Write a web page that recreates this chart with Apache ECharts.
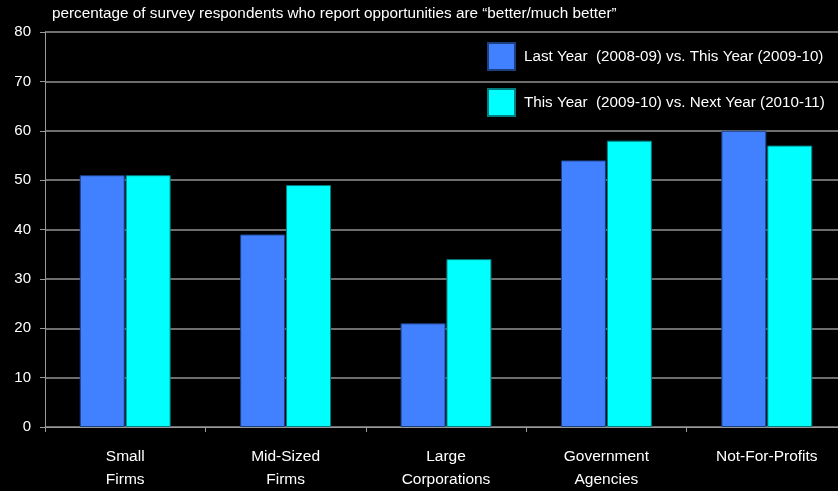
<!DOCTYPE html>
<html>
<head>
<meta charset="utf-8">
<script src="https://cdn.jsdelivr.net/npm/echarts@6/dist/echarts.min.js"></script>
<style>
  html, body { margin: 0; padding: 0; background: #000; }
  #chart { width: 838px; height: 491px; }
</style>
</head>
<body>
<div id="chart"></div>
<script>
// survey chart: opportunities better/much better
const categories = ['Small\nFirms', 'Mid-Sized\nFirms', 'Large\nCorporations', 'Government\nAgencies', 'Not-For-Profits'];
const lastYear = [51, 39, 21, 54, 60];
const nextYear = [51, 49, 34, 58, 57];
const seriesNames = ['Last Year  (2008-09) vs. This Year (2009-10)', 'This Year  (2009-10) vs. Next Year (2010-11)'];

const chart = echarts.init(document.getElementById('chart'));
const font = '"Liberation Sans", Arial, sans-serif';

const option = {
  backgroundColor: '#000',
  animation: false,
  title: {
    text: 'percentage of survey respondents who report opportunities are \u201cbetter/much better\u201d',
    left: 52,
    top: 6,
    padding: 0,
    textStyle: { color: '#fff', fontSize: 15.3, fontWeight: 'normal', fontFamily: font }
  },
  legend: {
    orient: 'vertical',
    left: 487,
    top: 42,
    padding: 0,
    itemWidth: 27,
    itemHeight: 27,
    itemGap: 17,
    icon: 'rect',
    textStyle: { color: '#fff', fontSize: 15.2, fontFamily: font, padding: [0, 0, 0, 4] },
    data: seriesNames
  },
  grid: { left: 45, top: 32, width: 802, bottom: 64, outerBoundsMode: 'none' },
  xAxis: {
    type: 'category',
    data: categories,
    axisLine: { lineStyle: { color: '#9a9a9a', width: 1 } },
    axisTick: { show: true, length: 5, lineStyle: { color: '#9a9a9a' } },
    axisLabel: { color: '#fff', fontSize: 15.5, fontFamily: font, lineHeight: 23, margin: 18 }
  },
  yAxis: {
    type: 'value',
    min: 0,
    max: 80,
    interval: 10,
    axisLine: { show: true, lineStyle: { color: '#9a9a9a' } },
    axisTick: { show: true, length: 5, lineStyle: { color: '#9a9a9a' } },
    axisLabel: { color: '#fff', fontSize: 15, fontFamily: font, margin: 14 },
    splitLine: { lineStyle: { color: '#6e6e6e', width: 2 } }
  },
  series: [
    {
      name: seriesNames[0],
      type: 'bar',
      data: lastYear,
      barWidth: 45,
      barGap: '2%',
      itemStyle: { color: '#4180ff', borderColor: '#1c3f80', borderWidth: 1 }
    },
    {
      name: seriesNames[1],
      type: 'bar',
      data: nextYear,
      barWidth: 45,
      itemStyle: { color: '#00ffff', borderColor: '#007f80', borderWidth: 1 }
    }
  ]
};
chart.setOption(option);
</script>
</body>
</html>
